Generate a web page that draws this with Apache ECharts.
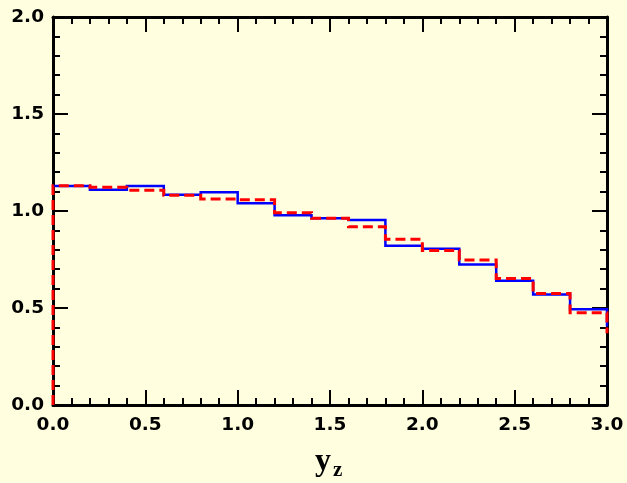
<!DOCTYPE html>
<html>
<head>
<meta charset="utf-8">
<script src="https://cdn.jsdelivr.net/npm/echarts@6/dist/echarts.min.js"></script>
<style>
  html, body { margin: 0; padding: 0; background: #ffffe0; }
  #chart { width: 627px; height: 483px; }
</style>
</head>
<body>
<div id="chart"></div>
<script>
// Left edges of the histogram bins (width 0.2); the last bin starts at the axis end
const binEdges = [0.0, 0.2, 0.4, 0.6, 0.8, 1.0, 1.2, 1.4, 1.6, 1.8, 2.0, 2.2, 2.4, 2.6, 2.8, 3.0];
// Solid blue histogram
const blueVals = [1.129, 1.109, 1.129, 1.084, 1.097, 1.040, 0.978, 0.962, 0.953, 0.821, 0.805, 0.724, 0.640, 0.569, 0.494, 0.405];
// Dashed red histogram
const redVals  = [1.130, 1.122, 1.107, 1.081, 1.062, 1.058, 0.991, 0.962, 0.919, 0.855, 0.797, 0.747, 0.652, 0.575, 0.475, 0.370];
const xTicks = [0.0, 0.5, 1.0, 1.5, 2.0, 2.5, 3.0];
const yTicks = [0.0, 0.5, 1.0, 1.5, 2.0];

// Step outline in data space: flat across each bin, vertical at each edge
function stepPoints(vals, fromZero) {
  const pts = fromZero ? [[binEdges[0], 0]] : [];
  vals.forEach((v, i) => {
    pts.push([binEdges[i], v]);
    if (i + 1 < binEdges.length) pts.push([binEdges[i + 1], v]);
  });
  return pts;
}

// A custom series that maps the whole outline through the axes as one polyline,
// so that tiny steps are kept and the dash pattern runs continuously
function histSeries(vals, fromZero, lineStyle) {
  const pts = stepPoints(vals, fromZero);
  return {
    type: 'custom',
    coordinateSystem: 'cartesian2d',
    clip: false,
    data: [pts[0]],
    encode: { x: 0, y: 1 },
    renderItem: (params, api) => ({
      type: 'polyline',
      shape: { points: pts.map(p => api.coord(p)) },
      style: Object.assign({ fill: null, lineJoin: 'miter' }, lineStyle)
    })
  };
}

const labelFont = { fontFamily: 'DejaVu Sans', fontWeight: 'bold', fontSize: 18.5, color: '#000' };

function makeAxis(kind, pos, ticks, showLabels) {
  return {
    type: 'value',
    position: pos,
    min: ticks[0],
    max: ticks[ticks.length - 1],
    interval: ticks[1] - ticks[0],
    axisLine: { show: true, onZero: false, lineStyle: { color: '#000', width: 3 } },
    axisTick: { show: true, inside: true, length: 15, lineStyle: { color: '#000', width: 2 } },
    minorTick: { show: true, splitNumber: 5, length: 7, lineStyle: { color: '#000', width: 2 } },
    splitLine: { show: false },
    axisLabel: Object.assign({
      show: showLabels,
      margin: kind === 'x' ? 11 : 9,
      formatter: v => v.toFixed(1)
    }, labelFont)
  };
}

const chart = echarts.init(document.getElementById('chart'), null, { renderer: 'canvas' });
chart.setOption({
  backgroundColor: '#ffffe0',
  animation: false,
  grid: { left: 53, right: 20, top: 17, bottom: 78 },
  xAxis: [makeAxis('x', 'bottom', xTicks, true), makeAxis('x', 'top', xTicks, false)],
  yAxis: [makeAxis('y', 'left', yTicks, true), makeAxis('y', 'right', yTicks, false)],
  graphic: [
    { type: 'text', left: 315, top: 446,
      style: { text: 'y', font: 'bold 32px "Liberation Serif"', fill: '#000' } },
    { type: 'text', left: 333, top: 460,
      style: { text: 'z', font: 'bold 21px "Liberation Serif"', fill: '#000' } }
  ],
  series: [
    histSeries(blueVals, false, { stroke: '#0000ff', lineWidth: 2.5 }),
    histSeries(redVals, true, { stroke: '#ff0000', lineWidth: 3, lineDash: [10, 5] })
  ]
});
</script>
</body>
</html>
